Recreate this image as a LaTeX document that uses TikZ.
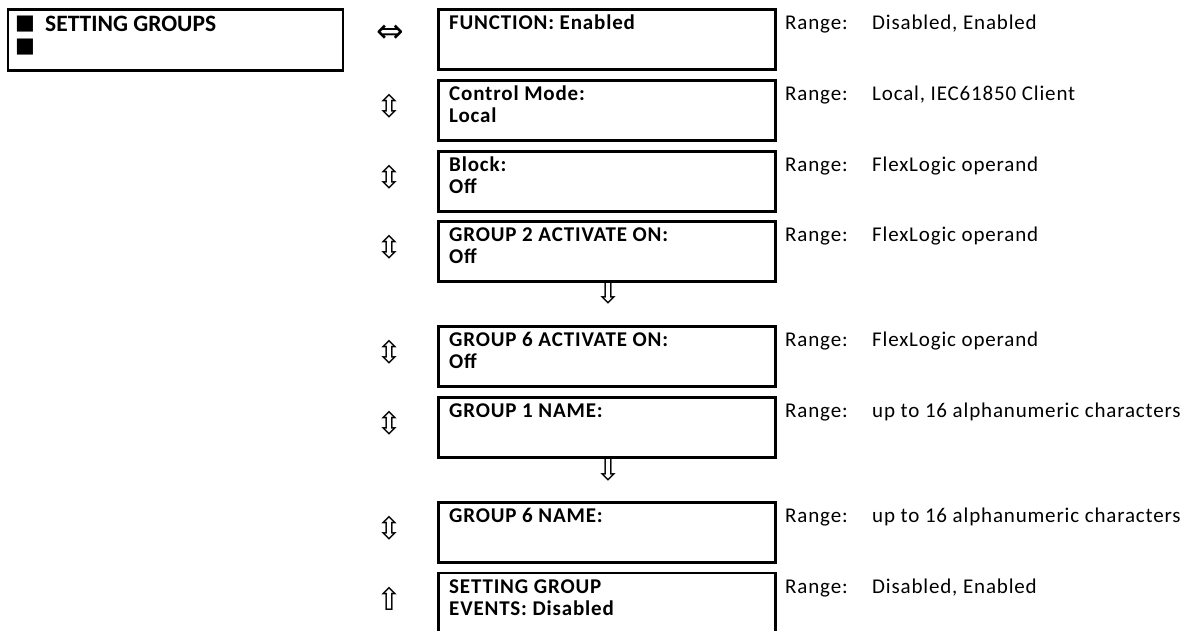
\documentclass[tikz,border=0pt]{standalone}
\usepackage{fontspec}
\setmainfont{Carlito}
\newfontfamily\spaced[LetterSpace=4]{Carlito}
\newfontfamily\sym{DejaVu Sans}
\begin{document}
\begin{tikzpicture}[x=1pt,y=-1pt,
  panel/.style={draw, line width=2.8pt, inner sep=0pt, anchor=north west, minimum width=335pt, minimum height=61pt},
  setbox/.style={draw, line width=2.8pt, inner sep=0pt, anchor=north west, minimum width=337pt, minimum height=60pt},
  btxt/.style={anchor=base west, inner sep=0pt, font=\spaced\bfseries\fontsize{21}{24}\selectfont},
  rtxt/.style={anchor=base west, inner sep=0pt, font=\spaced\fontsize{21}{24}\selectfont},
  ptxt/.style={anchor=base west, inner sep=0pt, font=\bfseries\fontsize{23.5}{26}\selectfont},
  sq/.style={inner sep=0pt, font=\sym\fontsize{21}{21}\selectfont},
  arr/.style={inner sep=0pt, font=\sym\fontsize{31}{31}\selectfont},
  harr/.style={inner sep=0pt, font=\sym\fontsize{33}{33}\selectfont},
  ]
\useasboundingbox (0,0) rectangle (1200,631);

% left panel
\node[panel] (sg) at (6.5,8.5) {};
\node[sq] (sq1) at (25,24.5) {■};
\node[sq] (sq2) at (25,47.5) {■};
\node[ptxt] (sgt) at (45,31.5) {SETTING GROUPS};

% boxes
\node[setbox] (b1) at (437,8.5) {};
\node[setbox] (b2) at (437,79.5) {};
\node[setbox] (b3) at (437,150) {};
\node[setbox] (b4) at (437,220.5) {};
\node[setbox] (b5) at (437,325) {};
\node[setbox] (b6) at (437,396) {};
\node[setbox] (b7) at (437,501) {};
\node[setbox] (b8) at (437,571.5) {};

% box texts
\node[btxt] (t1) at (449,30) {FUNCTION: Enabled};
\node[btxt] (t2a) at (449,101) {Control Mode:};
\node[btxt] (t2b) at (449,123) {Local};
\node[btxt] (t3a) at (449,171.5) {Block:};
\node[btxt] (t3b) at (449,193.5) {Off};
\node[btxt] (t4a) at (449,241.5) {GROUP 2 ACTIVATE ON:};
\node[btxt] (t4b) at (449,264) {Off};
\node[btxt] (t5a) at (449,346.5) {GROUP 6 ACTIVATE ON:};
\node[btxt] (t5b) at (449,368.5) {Off};
\node[btxt] (t6) at (449,417.5) {GROUP 1 NAME:};
\node[btxt] (t7) at (449,522.5) {GROUP 6 NAME:};
\node[btxt] (t8a) at (449,593) {SETTING GROUP};
\node[btxt] (t8b) at (449,615) {EVENTS: Disabled};

% range texts
\foreach \n/\y/\v in {1/30/{Disabled, Enabled},
                      2/101/{Local, IEC61850 Client},
                      3/171.5/{FlexLogic operand},
                      4/241.5/{FlexLogic operand},
                      5/346.5/{FlexLogic operand},
                      6/417.5/{up to 16 alphanumeric characters},
                      7/522.5/{up to 16 alphanumeric characters},
                      8/593/{Disabled, Enabled}}{
  \node[rtxt] (rl\n) at (785,\y) {Range:};
  \node[rtxt] (rv\n) at (872,\y) {\v};
}

% navigation arrows
\node[harr] (a1) at (390,33.5) {⇔};
\node[arr] (a2) at (389,106.5) {⇳};
\node[arr] (a3) at (389,177) {⇳};
\node[arr] (a4) at (389,247.5) {⇳};
\node[arr] (a5) at (389,352) {⇳};
\node[arr] (a6) at (389,423) {⇳};
\node[arr] (a7) at (389,528) {⇳};
\node[arr] (a8) at (389,598.5) {⇧};
\node[arr] (d1) at (608,293) {⇩};
\node[arr] (d2) at (608,470) {⇩};
\end{tikzpicture}
\end{document}
